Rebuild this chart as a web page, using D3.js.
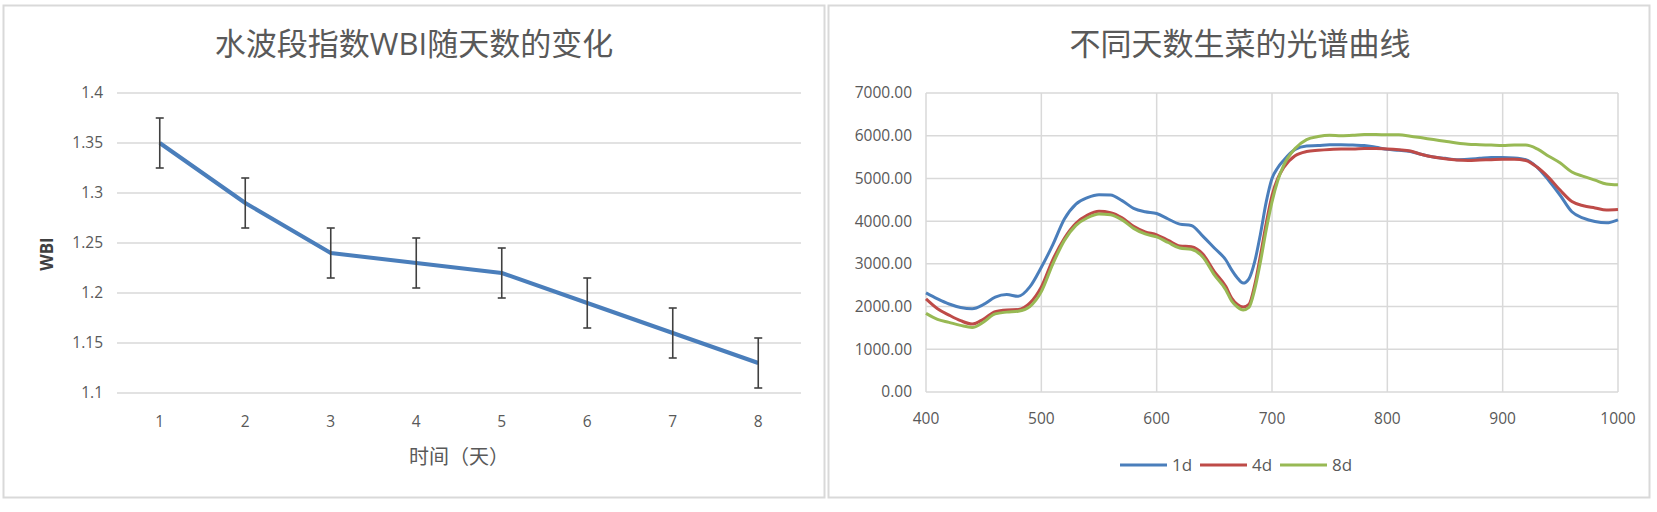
<!DOCTYPE html>
<html><head><meta charset="utf-8">
<script src="https://cdn.jsdelivr.net/npm/d3@7"></script>
<style>
body{margin:0;background:#fff;}
svg{display:block;font-family:"Open Sans","Noto Sans CJK SC",sans-serif;}
</style></head>
<body><svg id="c" width="1657" height="512"></svg>
<script>
// ---- Left chart data ----
const days = [1,2,3,4,5,6,7,8];
const wbi = [1.35,1.29,1.24,1.23,1.22,1.19,1.16,1.13];
const wbiErr = [0.025,0.025,0.025,0.025,0.025,0.025,0.025,0.025];
const wbiTicks = [1.1,1.15,1.2,1.25,1.3,1.35,1.4];
const wbiTickLabels = ["1.1","1.15","1.2","1.25","1.3","1.35","1.4"];

// ---- Right chart data ----
const wavelengths = [400,410,420,430,440,450,460,470,480,490,500,510,520,530,540,550,560,570,580,590,600,610,620,630,640,650,660,665,670,675,680,685,690,695,700,705,710,720,730,740,750,760,770,780,790,800,810,820,830,840,850,860,870,880,890,900,910,920,930,940,950,960,970,980,990,1000];
const d1 = [2320,2180,2060,1980,1950,2050,2220,2280,2240,2460,2920,3450,4050,4400,4550,4620,4610,4480,4300,4220,4180,4050,3930,3900,3650,3370,3090,2860,2670,2550,2650,3050,3700,4450,5000,5250,5420,5680,5760,5770,5790,5790,5780,5770,5730,5680,5660,5630,5560,5500,5470,5440,5450,5470,5490,5490,5480,5440,5260,4950,4600,4220,4070,3990,3960,4030];
const d4 = [2180,1950,1800,1670,1590,1710,1880,1920,1930,2080,2460,3100,3600,3950,4140,4230,4200,4080,3880,3750,3680,3550,3420,3400,3230,2820,2470,2200,2050,1990,2050,2500,3200,3950,4600,5000,5250,5530,5630,5660,5680,5690,5690,5700,5700,5690,5670,5640,5560,5500,5460,5430,5420,5430,5440,5450,5450,5420,5260,5020,4720,4460,4360,4310,4260,4270];
const d8 = [1840,1700,1630,1560,1510,1640,1830,1870,1890,2000,2350,3000,3550,3900,4080,4170,4150,4030,3830,3700,3630,3500,3370,3340,3160,2740,2390,2130,1990,1920,1980,2400,3050,3800,4450,4950,5300,5700,5910,5980,6010,6000,6010,6030,6030,6020,6020,5990,5950,5910,5870,5830,5800,5790,5780,5770,5780,5780,5690,5520,5360,5150,5050,4960,4870,4850];
const seriesNames = ["1d","4d","8d"];
const seriesColors = ["#4a7ebb","#be4b48","#98b954"];
const specYTicks = [0,1000,2000,3000,4000,5000,6000,7000];
const specXTicks = [400,500,600,700,800,900,1000];

const svg = d3.select("#c");
const gridC = "#d9d9d9", txtC = "#595959";

// panel borders
svg.append("rect").attr("x",3.5).attr("y",5.5).attr("width",821).attr("height",492)
  .attr("fill","none").attr("stroke",gridC).attr("stroke-width",2);
svg.append("rect").attr("x",828.5).attr("y",5.5).attr("width",821).attr("height",492)
  .attr("fill","none").attr("stroke",gridC).attr("stroke-width",2);

// ===== Left chart =====
const xL = d3.scaleBand().domain(days).range([117,801]);
const yL = d3.scaleLinear().domain([1.1,1.4]).range([393,93]);
const cx = d => xL(d)+xL.bandwidth()/2;

const gL = svg.append("g");
gL.selectAll("line.grid").data(wbiTicks).join("line")
  .attr("x1",117).attr("x2",801).attr("y1",d=>yL(d)).attr("y2",d=>yL(d))
  .attr("stroke",gridC).attr("stroke-width",1.5);
gL.selectAll("text.yt").data(wbiTicks).join("text")
  .attr("x",103).attr("y",d=>yL(d)).attr("dy","0.35em").attr("text-anchor","end")
  .attr("font-size",15.5).attr("fill",txtC).text((d,i)=>wbiTickLabels[i]);
gL.selectAll("text.xt").data(days).join("text")
  .attr("x",d=>cx(d)).attr("y",422).attr("dy","0.35em").attr("text-anchor","middle")
  .attr("font-size",15.5).attr("fill",txtC).text(d=>d);

// line
gL.append("path").datum(days.map((d,i)=>[d,wbi[i]]))
  .attr("fill","none").attr("stroke","#4a7ebb").attr("stroke-width",4).attr("stroke-linejoin","round")
  .attr("d",d3.line().x(d=>cx(d[0])).y(d=>yL(d[1])));
// error bars
const eb = gL.selectAll("g.eb").data(days).join("g");
eb.append("line").attr("x1",d=>cx(d)).attr("x2",d=>cx(d))
  .attr("y1",(d,i)=>yL(wbi[i]-wbiErr[i])).attr("y2",(d,i)=>yL(wbi[i]+wbiErr[i]))
  .attr("stroke","#404040").attr("stroke-width",1.6);
eb.append("line").attr("x1",d=>cx(d)-4).attr("x2",d=>cx(d)+4)
  .attr("y1",(d,i)=>yL(wbi[i]+wbiErr[i])).attr("y2",(d,i)=>yL(wbi[i]+wbiErr[i]))
  .attr("stroke","#404040").attr("stroke-width",1.6);
eb.append("line").attr("x1",d=>cx(d)-4).attr("x2",d=>cx(d)+4)
  .attr("y1",(d,i)=>yL(wbi[i]-wbiErr[i])).attr("y2",(d,i)=>yL(wbi[i]-wbiErr[i]))
  .attr("stroke","#404040").attr("stroke-width",1.6);

svg.append("text").attr("x",414).attr("y",55).attr("text-anchor","middle")
  .attr("font-size",31).attr("fill",txtC).text("水波段指数WBI随天数的变化");
svg.append("text").attr("x",459).attr("y",464).attr("text-anchor","middle")
  .attr("font-size",20).attr("fill",txtC).text("时间（天）");
svg.append("text").attr("transform","translate(53,254) rotate(-90)").attr("text-anchor","middle")
  .attr("font-size",17).attr("font-weight","bold").attr("fill","#404040").text("WBI");

// ===== Right chart =====
const xR = d3.scaleLinear().domain([400,1000]).range([926,1618]);
const yR = d3.scaleLinear().domain([0,7000]).range([392,93]);
const gR = svg.append("g");
gR.selectAll("line.hg").data(specYTicks).join("line")
  .attr("x1",926).attr("x2",1618).attr("y1",d=>yR(d)).attr("y2",d=>yR(d))
  .attr("stroke",gridC).attr("stroke-width",1.5);
gR.selectAll("line.vg").data(specXTicks).join("line")
  .attr("x1",d=>xR(d)).attr("x2",d=>xR(d)).attr("y1",93).attr("y2",392)
  .attr("stroke",gridC).attr("stroke-width",1.5);
gR.selectAll("text.yt").data(specYTicks).join("text")
  .attr("x",912).attr("y",d=>yR(d)).attr("dy","0.35em").attr("text-anchor","end")
  .attr("font-size",15.5).attr("fill",txtC).text(d=>d3.format(".2f")(d));
gR.selectAll("text.xt").data(specXTicks).join("text")
  .attr("x",d=>xR(d)).attr("y",419).attr("dy","0.35em").attr("text-anchor","middle")
  .attr("font-size",15.5).attr("fill",txtC).text(d=>d);

const allSeries = [d1,d4,d8];
const lineR = d3.line().x(d=>xR(d[0])).y(d=>yR(d[1])).curve(d3.curveMonotoneX);
allSeries.forEach((s,k)=>{
  gR.append("path").datum(wavelengths.map((w,i)=>[w,s[i]]))
    .attr("fill","none").attr("stroke",seriesColors[k]).attr("stroke-width",3)
    .attr("stroke-linejoin","round").attr("d",lineR);
});

svg.append("text").attr("x",1240).attr("y",55).attr("text-anchor","middle")
  .attr("font-size",31).attr("fill",txtC).text("不同天数生菜的光谱曲线");

// legend
const lg = svg.append("g");
seriesNames.forEach((n,k)=>{
  const x0 = 1120 + k*80;
  lg.append("line").attr("x1",x0).attr("x2",x0+47).attr("y1",465).attr("y2",465)
    .attr("stroke",seriesColors[k]).attr("stroke-width",3);
  lg.append("text").attr("x",x0+52).attr("y",465).attr("dy","0.35em")
    .attr("font-size",17).attr("fill",txtC).text(n);
});
</script></body></html>
